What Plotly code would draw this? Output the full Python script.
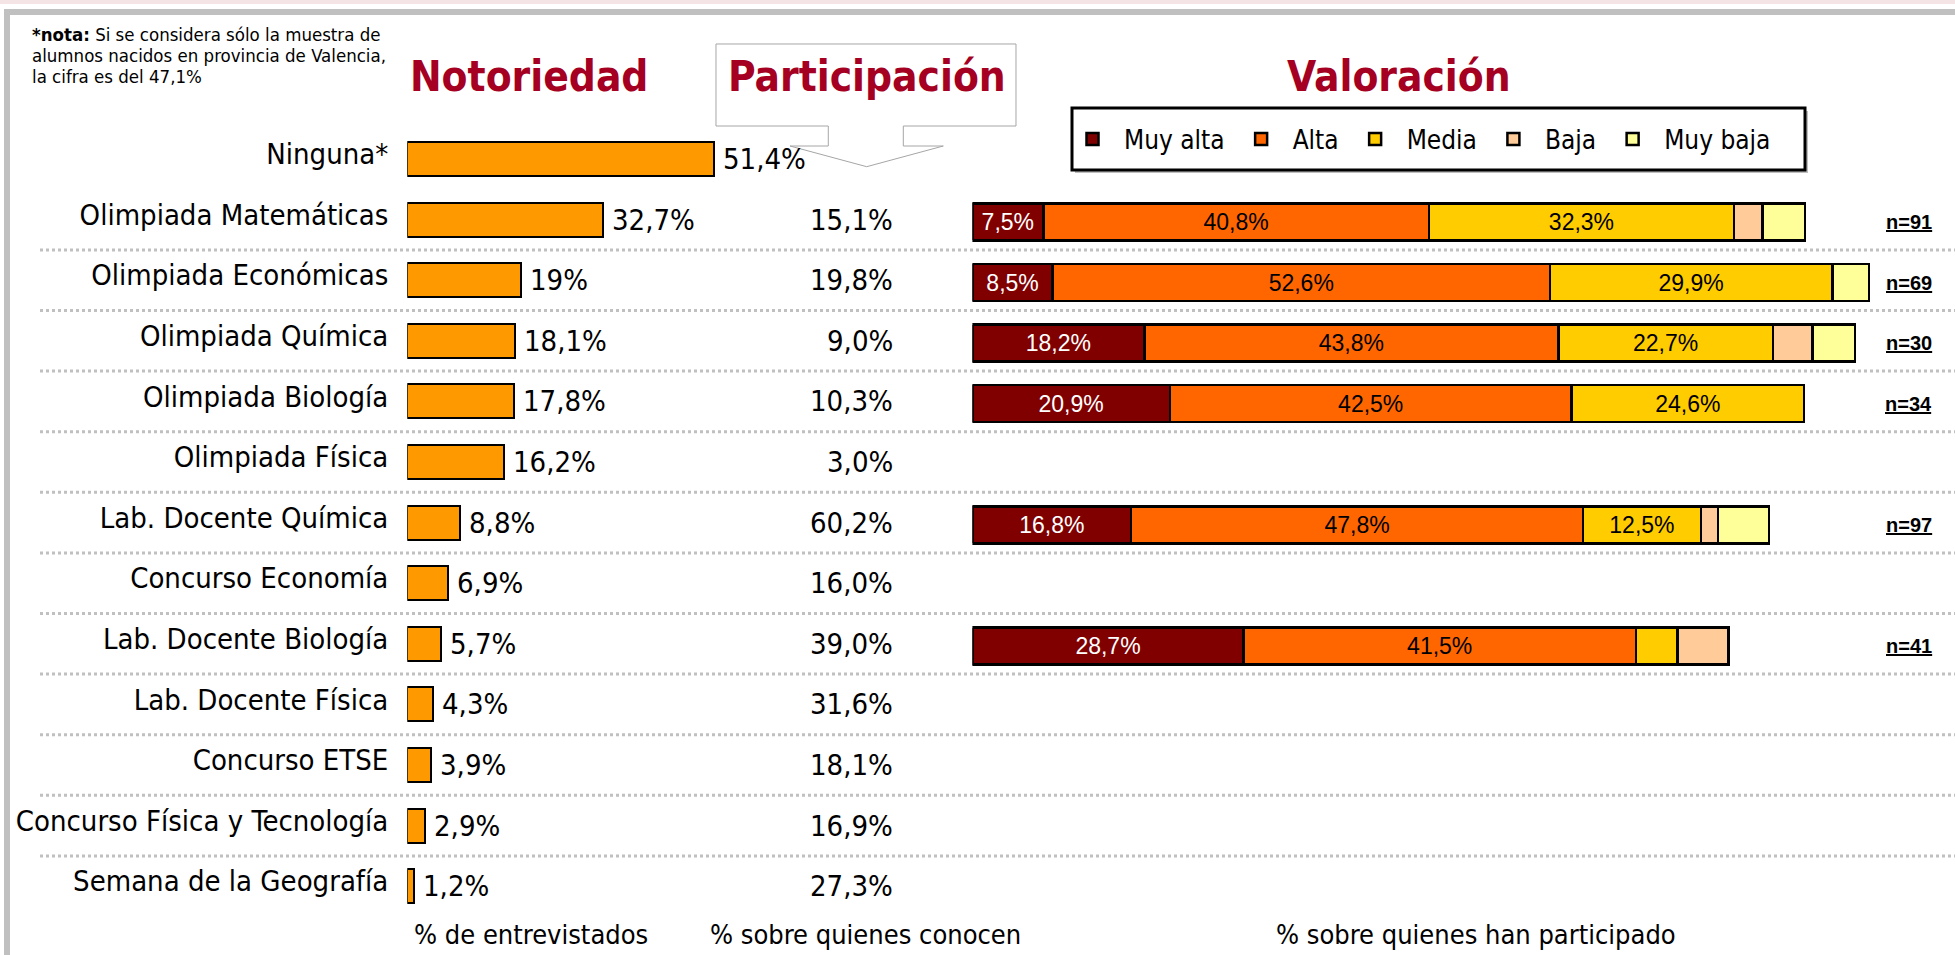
import plotly.graph_objects as go

# ---------------- data ----------------
categorias = [
    "Ninguna*", "Olimpiada Matemáticas", "Olimpiada Económicas", "Olimpiada Química",
    "Olimpiada Biología", "Olimpiada Física", "Lab. Docente Química", "Concurso Economía",
    "Lab. Docente Biología", "Lab. Docente Física", "Concurso ETSE",
    "Concurso Física y Tecnología", "Semana de la Geografía",
]
notoriedad = [51.4, 32.7, 19, 18.1, 17.8, 16.2, 8.8, 6.9, 5.7, 4.3, 3.9, 2.9, 1.2]
participacion = [None, 15.1, 19.8, 9.0, 10.3, 3.0, 60.2, 16.0, 39.0, 31.6, 18.1, 16.9, 27.3]

val_categorias = [
    "Olimpiada Matemáticas", "Olimpiada Económicas", "Olimpiada Química",
    "Olimpiada Biología", "Lab. Docente Química", "Lab. Docente Biología",
]
muy_alta = [7.5, 8.5, 18.2, 20.9, 16.8, 28.7]
alta = [40.8, 52.6, 43.8, 42.5, 47.8, 41.5]
media = [32.3, 29.9, 22.7, 24.6, 12.5, 4.4]
baja = [3.0, None, 4.2, None, 1.8, 5.4]
muy_baja = [4.5, 3.9, 4.5, None, 5.4, None]
muestras = [91, 69, 30, 34, 97, 41]

niveles = ["Muy alta", "Alta", "Media", "Baja", "Muy baja"]
valoracion = [muy_alta, alta, media, baja, muy_baja]

nota_lineas = [
    "<b>*nota:</b> Si se considera sólo la muestra de",
    "alumnos nacidos en provincia de Valencia,",
    "la cifra es del 47,1%",
]

# ---------------- styling / geometry ----------------
W, H = 1955, 955
FONT = "DejaVu Sans Condensed, DejaVu Sans, sans-serif"
ARIAL = "Liberation Sans, Arial, sans-serif"
TITLE_RED = "#A50021"
NARANJA = "#FF9900"
COLORES = ["#800000", "#FF6600", "#FFCC00", "#FFCC99", "#FFFF99"]
TEXTO_SEG = ["white", "black", "black", "black", "black"]
GRIS = "#C0C0C0"

ROW0, PITCH = 159.0, 60.6          # first row centre, row spacing (px)
X0_N, PX_N = 407.3, 5.97           # notoriedad axis origin, px per %
X0_V, PX_V = 972.4, 9.45           # valoracion axis origin, px per %
X1_N = 900.0


def px(x):
    return x / W


def py(y):
    return 1 - y / H


def pct(v, dec=None):
    s = f"{v:g}" if dec is None else f"{v:.{dec}f}"
    return s.replace(".", ",") + "%"


top_n = -ROW0 / PITCH
bot_n = top_n + H / PITCH
top_v = -(ROW0 + 2.3) / PITCH
bot_v = top_v + H / PITCH

fig = go.Figure()

# Notoriedad bars
fig.add_trace(go.Bar(
    y=categorias, x=notoriedad, orientation="h", width=0.56,
    marker=dict(color=NARANJA, line=dict(color="black", width=2)),
    showlegend=False, hoverinfo="x+y", xaxis="x", yaxis="y",
))

# Valoracion stacked bars
for nombre, serie, color, tcol in zip(niveles, valoracion, COLORES, TEXTO_SEG):
    etiquetas = [pct(v, 1) if (v is not None and v >= 7) else "" for v in serie]
    fig.add_trace(go.Bar(
        y=val_categorias, x=serie, name=nombre, orientation="h", width=0.61,
        marker=dict(color=color, line=dict(color="black", width=2.5)),
        text=etiquetas, textposition="inside", insidetextanchor="middle",
        textangle=0, constraintext="none",
        insidetextfont=dict(family=ARIAL, size=23, color=tcol),
        xaxis="x2", yaxis="y2",
    ))

annotations = []

# value labels next to notoriedad bars
for cat, v in zip(categorias, notoriedad):
    annotations.append(dict(
        x=v, y=cat, xref="x", yref="y", text=pct(v), showarrow=False,
        xanchor="left", yanchor="middle", xshift=7,
        font=dict(family=FONT, size=29, color="black"),
    ))

# participacion column
for cat, v in zip(categorias, participacion):
    if v is None:
        continue
    annotations.append(dict(
        x=px(895), y=cat, xref="paper", yref="y", text=pct(v, 1), showarrow=False,
        xanchor="right", yanchor="middle",
        font=dict(family=FONT, size=29, color="black"),
    ))

# sample sizes
for cat, n in zip(val_categorias, muestras):
    annotations.append(dict(
        x=px(1934), y=cat, xref="paper", yref="y2", text=f"<b><u>n={n}</u></b>",
        showarrow=False, xanchor="right", yanchor="middle",
        font=dict(family=ARIAL, size=20, color="black"),
    ))

# section titles
for texto, xc in [("Notoriedad", 529), ("Participación", 867), ("Valoración", 1399)]:
    annotations.append(dict(
        x=px(xc), y=py(76), xref="paper", yref="paper", text=f"<b>{texto}</b>",
        showarrow=False, xanchor="center", yanchor="middle",
        font=dict(family=FONT, size=42, color=TITLE_RED),
    ))

# column footers
for texto, xc in [("% de entrevistados", 531), ("% sobre quienes conocen", 865),
                  ("% sobre quienes han participado", 1476)]:
    annotations.append(dict(
        x=px(xc), y=py(934), xref="paper", yref="paper", text=texto,
        showarrow=False, xanchor="center", yanchor="middle",
        font=dict(family=FONT, size=27, color="black"),
    ))

# footnote, one line at a time for tight spacing
for linea, yc in zip(nota_lineas, [35, 56, 77]):
    annotations.append(dict(
        x=px(30), y=py(yc), xref="paper", yref="paper", text=linea, showarrow=False,
        xanchor="left", yanchor="middle", align="left",
        font=dict(family=FONT, size=18.5, color="black"),
    ))

shapes = []
# faint top strip and grey frame
shapes.append(dict(type="rect", xref="paper", yref="paper", x0=0, x1=1, y0=py(4), y1=1,
                   fillcolor="#F4E4E6", line=dict(width=0), layer="below"))
shapes.append(dict(type="rect", xref="paper", yref="paper", x0=px(4), x1=1, y0=py(15), y1=py(9),
                   fillcolor=GRIS, line=dict(width=0), layer="below"))
shapes.append(dict(type="rect", xref="paper", yref="paper", x0=px(4), x1=px(10), y0=0, y1=py(9),
                   fillcolor=GRIS, line=dict(width=0), layer="below"))

# dotted row separators
for i in range(1, len(categorias) - 1):
    shapes.append(dict(type="line", xref="paper", yref="y", x0=px(40), x1=1,
                       y0=i + 0.5, y1=i + 0.5,
                       line=dict(color=GRIS, width=3, dash="dot"), layer="below"))

# callout box behind "Participación"
callout = [(716, 44), (1016, 44), (1016, 126), (903.3, 126), (903.3, 146), (943.3, 146),
           (866.7, 166.7), (790, 146), (828.3, 146), (828.3, 126), (716, 126)]
path = "M " + " L ".join(f"{px(a):.5f},{py(b):.5f}" for a, b in callout) + " Z"
shapes.append(dict(type="path", xref="paper", yref="paper", path=path,
                   fillcolor="white", line=dict(color="#A6A6A6", width=1), layer="below"))

# legend frame
shapes.append(dict(type="rect", xref="paper", yref="paper", x0=px(1075), x1=px(1808),
                   y0=py(173), y1=py(111), fillcolor="#BFBFBF", line=dict(width=0), layer="below"))
shapes.append(dict(type="rect", xref="paper", yref="paper", x0=px(1072), x1=px(1805),
                   y0=py(170), y1=py(108), fillcolor="white",
                   line=dict(color="black", width=3), layer="below"))

fig.update_layout(
    width=W, height=H,
    margin=dict(l=0, r=0, t=0, b=0),
    paper_bgcolor="white", plot_bgcolor="rgba(0,0,0,0)",
    barmode="stack", bargap=0.4,
    font=dict(family=FONT, color="black"),
    xaxis=dict(domain=[px(X0_N), px(X1_N)], range=[0, (X1_N - X0_N) / PX_N],
               visible=False, anchor="y", fixedrange=True),
    yaxis=dict(domain=[0, 1], type="category", categoryorder="array",
               categoryarray=categorias, range=[bot_n, top_n], anchor="x",
               showgrid=False, zeroline=False, showline=False, ticks="",
               ticklabelstandoff=18, ticklabelshift=5,
               tickfont=dict(family=FONT, size=29, color="black"),
               fixedrange=True),
    xaxis2=dict(domain=[px(X0_V), 1], range=[0, (W - X0_V) / PX_V],
                visible=False, anchor="y2", fixedrange=True),
    yaxis2=dict(domain=[0, 1], type="category", categoryorder="array",
                categoryarray=categorias, range=[bot_v, top_v], anchor="x2",
                visible=False, fixedrange=True),
    legend=dict(orientation="h", x=px(1061), y=py(139), xanchor="left", yanchor="middle",
                bgcolor="rgba(0,0,0,0)", borderwidth=0, itemwidth=53,
                font=dict(family=FONT, size=26, color="black"), traceorder="normal",
                itemclick=False, itemdoubleclick=False),
    annotations=annotations,
    shapes=shapes,
)

fig.write_html("out.html")
